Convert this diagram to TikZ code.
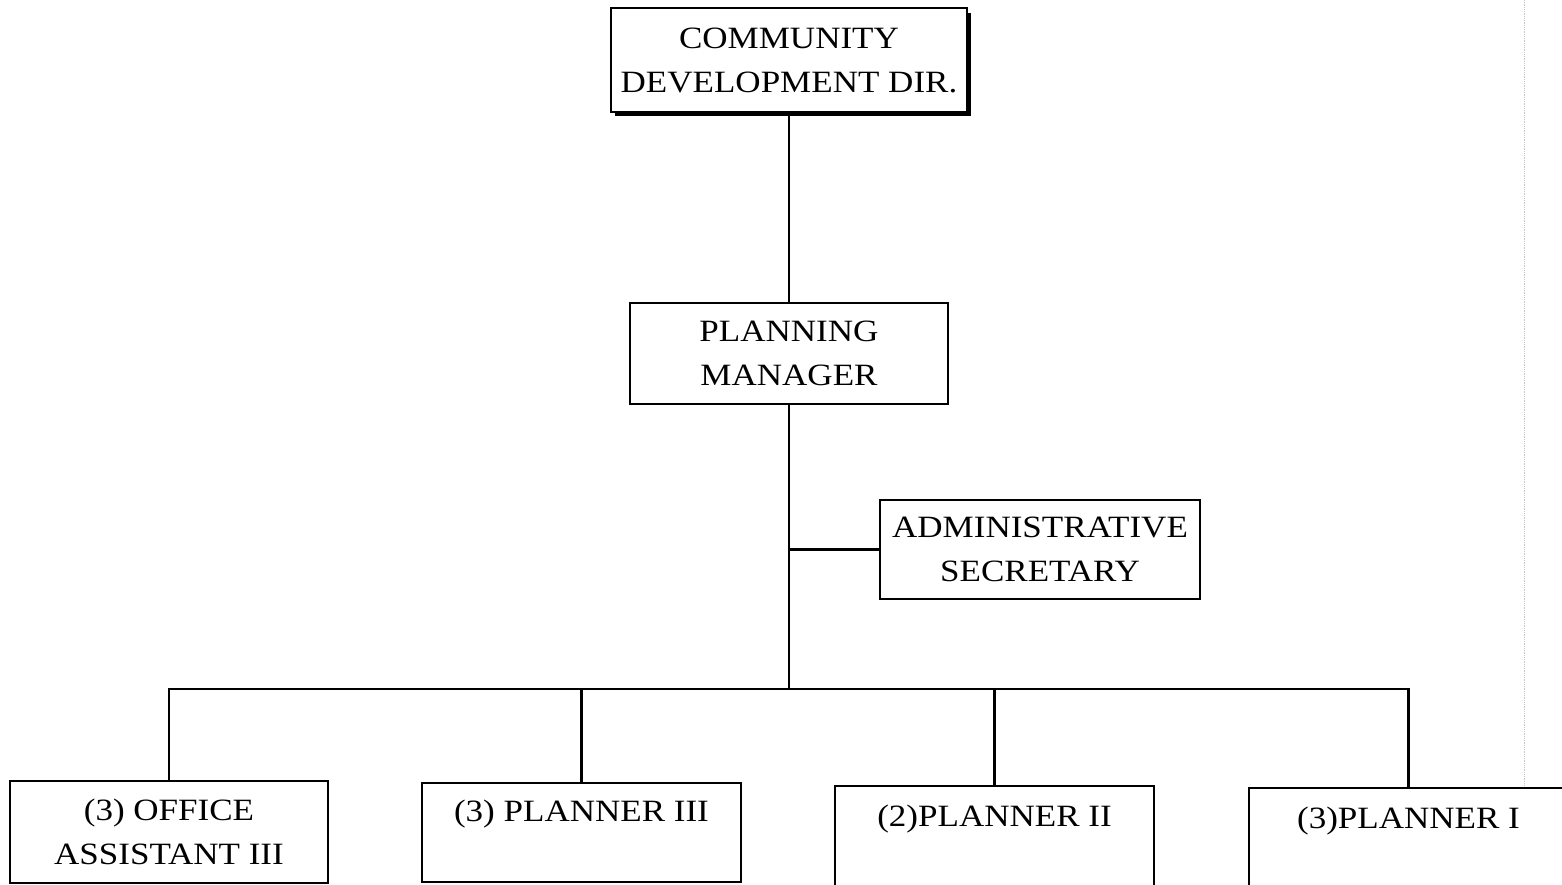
\documentclass[tikz,border=0pt]{standalone}
\usepackage{fontspec}
\setmainfont{Liberation Serif}[FakeStretch=1.13]
\begin{document}
\begin{tikzpicture}[x=1pt,y=-1pt,
  every node/.style={font=\fontsize{31}{44}\selectfont, align=center, inner sep=0pt},
  orgbox/.style={draw=black, line width=2pt, fill=white},
  link/.style={draw=black, line width=2.6pt}]
\clip (0,0) rectangle (1562,885);
\fill[white] (0,0) rectangle (1562,885);

% faint scan edge on the right
\draw[gray!45, line width=0.8pt, densely dotted] (1524,0) -- (1524,885);

% director box with its drop shadow
\fill[black] (615,13) rectangle (971,116);
\node[orgbox, minimum width=356pt, minimum height=104pt] (dir) at (789,60.5)
  {COMMUNITY\\DEVELOPMENT DIR.};

\node[orgbox, minimum width=318pt, minimum height=101pt] (pm) at (789,353.5)
  {PLANNING\\MANAGER};

\node[orgbox, minimum width=320pt, minimum height=99pt] (sec) at (1040,549.5)
  {ADMINISTRATIVE\\SECRETARY};

\node[orgbox, minimum width=318pt, minimum height=102pt] (oa) at (169,832)
  {(3) OFFICE\\ASSISTANT III};
\node[orgbox, minimum width=319pt, minimum height=99pt] (p3) at (581.5,832.5)
  {(3) PLANNER III\\\mbox{}};
\node[orgbox, minimum width=319pt, minimum height=104pt] (p2) at (994.5,838)
  {(2)PLANNER II\\\mbox{}};
\node[orgbox, minimum width=319pt, minimum height=104pt] (p1) at (1408.5,840)
  {(3)PLANNER I\\\mbox{}};

% reporting lines
\coordinate (bus) at (789,689);
\draw[link] (dir.south) -- (pm.north);
\draw[link] (pm.south) -- (bus);
\draw[link] (sec.west) -- (pm.south |- sec.west);
\draw[link] (oa.north) |- (bus) -| (p1.north);
\draw[link] (p3.north) -- (p3.north |- bus);
\draw[link] (p2.north) -- (p2.north |- bus);
\end{tikzpicture}
\end{document}
